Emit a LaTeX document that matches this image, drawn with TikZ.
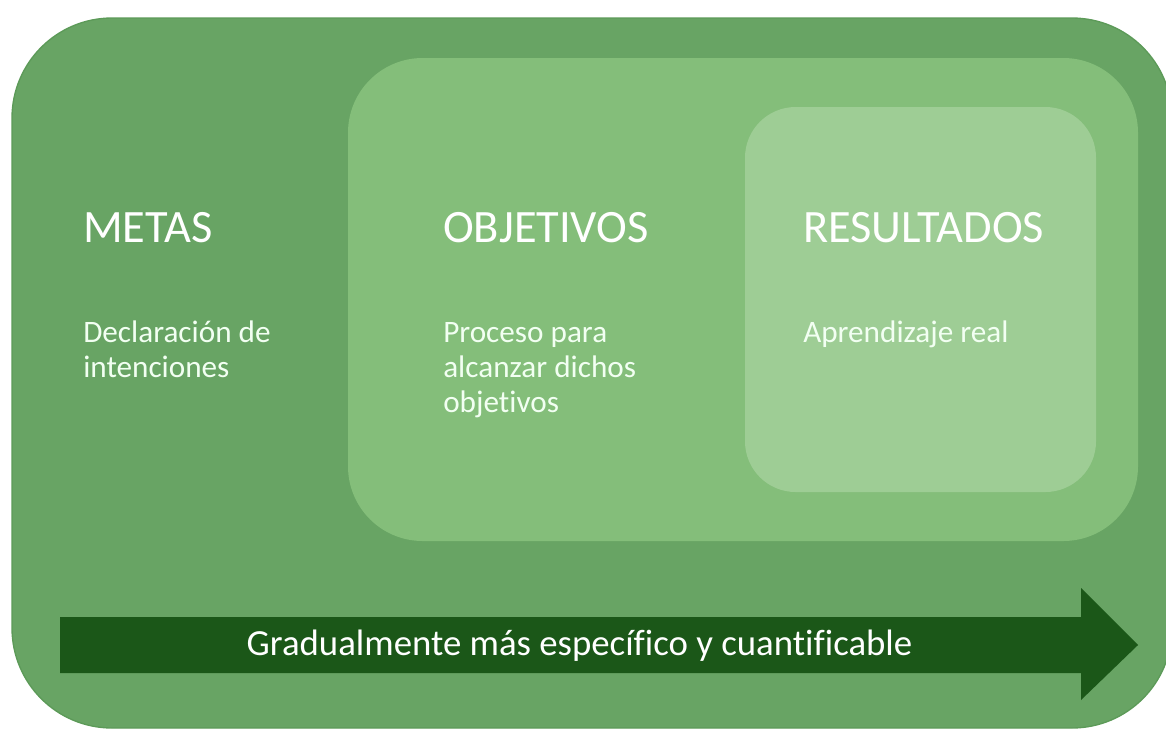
\documentclass[tikz,border=0pt]{standalone}
\usepackage{fontspec}
\setmainfont{Carlito}[Ligatures=NoCommon]
\definecolor{outerG}{HTML}{68A464}
\definecolor{outerB}{HTML}{5C9A58}
\definecolor{midG}{HTML}{84BE7A}
\definecolor{innG}{HTML}{9ECD95}
\definecolor{arrG}{HTML}{1B5718}
\tikzset{
  title/.style={anchor=base west, inner sep=0pt, text=white, font=\fontsize{34.8pt}{40pt}\selectfont},
  body/.style={anchor=base west, inner sep=0pt, text=white!95!green, font=\fontsize{23.4pt}{27pt}\selectfont},
  band/.style={anchor=base, inner sep=0pt, text=white, font=\fontsize{27.6pt}{32pt}\selectfont},
}
\begin{document}
\begin{tikzpicture}[x=0.75pt,y=-0.75pt]
\useasboundingbox (0,0) rectangle (1166,729);
% outer
\path[fill=outerG, draw=outerB, line width=1pt, rounded corners=75pt] (12,18) rectangle (1172,728);
% middle
\path[fill=midG, rounded corners=56pt] (348,58) rectangle (1138,541);
% inner
\path[fill=innG, rounded corners=38pt] (745,107) rectangle (1096,492);
% arrow
\path[fill=arrG] (60,617) -- (1081,617) -- (1081,588) -- (1138,645) -- (1081,700) -- (1081,673) -- (60,673) -- cycle;
% texts
\node[title] (t1) at (83,242) {METAS};
\node[title] (t2) at (443,242) {OBJETIVOS};
\node[title] (t3) at (803,242) {RESULTADOS};
\node[body] (b1a) at (83,342) {Declaración de};
\node[body] (b1b) at (83,377) {intenciones};
\node[body] (b2a) at (443,342) {Proceso para};
\node[body] (b2b) at (443,377) {alcanzar dichos};
\node[body] (b2c) at (443,412) {objetivos};
\node[body] (b3a) at (803,342) {Aprendizaje real};
\node[band] (arr) at (579.5,655) {Gradualmente más específico y cuantificable};
\end{tikzpicture}
\end{document}
